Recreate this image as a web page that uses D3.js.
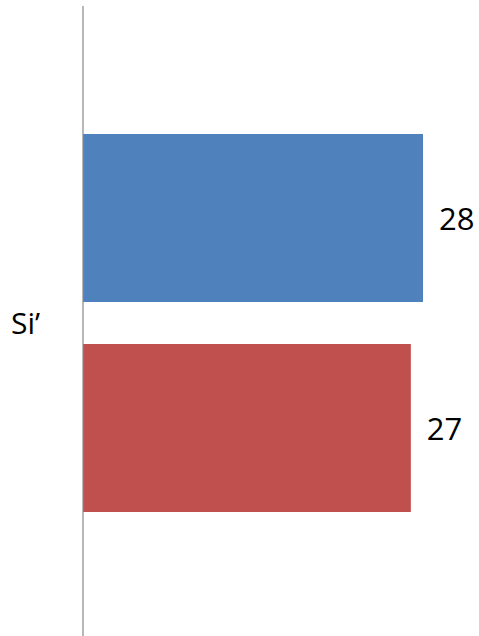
<!DOCTYPE html>
<html><head><meta charset="utf-8">
<script src="https://cdn.jsdelivr.net/npm/d3@7"></script>
<style>html,body{margin:0;padding:0;background:#fff;}svg{display:block;}</style>
</head><body>
<script>
const categories = ["Si’"];
const seriesNames = ["Serie 1", "Serie 2"];
const values = [28, 27];
const colors = ["#4F81BD", "#C0504D"];

const W = 479, H = 636;
const svg = d3.select("body").append("svg").attr("width", W).attr("height", H);

const x0 = 83;
const x = d3.scaleLinear().domain([0, 28]).range([x0, 423]);
const yCat = d3.scaleBand().domain(categories).range([8, 636]);
const ySer = d3.scaleBand().domain(seriesNames).range([134, 512]).paddingInner(0.2);

const font = "'Open Sans', 'Noto Sans', sans-serif";
const g = svg.append("g");
categories.forEach(c => {
  const base = yCat(c) - 8;
  seriesNames.forEach((s, i) => {
    g.append("rect")
      .attr("x", x(0))
      .attr("y", base + ySer(s))
      .attr("width", x(values[i]) - x(0))
      .attr("height", ySer.bandwidth())
      .attr("fill", colors[i]);
    g.append("text")
      .attr("x", x(values[i]) + 16)
      .attr("y", base + ySer(s) + ySer.bandwidth() / 2 + 12)
      .attr("font-family", font)
      .attr("font-size", 31)
      .attr("fill", "#000")
      .text(values[i]);
  });
  svg.append("text")
    .attr("x", 11)
    .attr("y", 334)
    .attr("font-family", font)
    .attr("font-size", 30)
    .attr("fill", "#000")
    .text(c);
});

svg.append("line")
  .attr("x1", x0).attr("x2", x0)
  .attr("y1", 6).attr("y2", 636)
  .attr("stroke", "#888").attr("stroke-width", 1.2);
</script>
</body></html>
